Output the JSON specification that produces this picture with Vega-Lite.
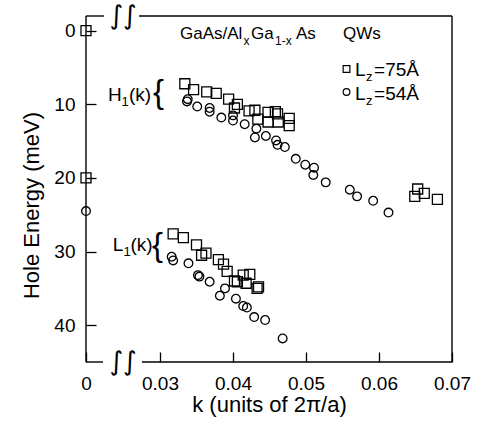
{
  "$schema": "https://vega.github.io/schema/vega-lite/v6.json",
  "width": 366,
  "height": 346,
  "autosize": {"type": "none"},
  "padding": {"left": 86, "top": 16, "right": 32, "bottom": 66},
  "background": "white",
  "config": {
    "view": {"stroke": null},
    "font": "Liberation Sans",
    "axis": {
      "domain": false,
      "grid": false,
      "ticks": true,
      "tickSize": -10,
      "tickColor": "black",
      "tickWidth": 1.3,
      "labelFlush": false,
      "labelOverlap": false,
      "labelFont": "Liberation Sans",
      "labelFontSize": 19,
      "labelColor": "black",
      "titleFont": "Liberation Sans",
      "titleFontSize": 22,
      "titleFontWeight": "normal",
      "titleColor": "black"
    }
  },
  "datasets": {
    "sq": [
      {"k": 0, "E": 0}, {"k": 0, "E": 20.0},
      {"k": 0.0334, "E": 7.2}, {"k": 0.0346, "E": 8.0}, {"k": 0.0364, "E": 8.3}, {"k": 0.0377, "E": 8.5},
      {"k": 0.0394, "E": 9.3}, {"k": 0.0406, "E": 10.0}, {"k": 0.0402, "E": 10.5}, {"k": 0.0422, "E": 10.9},
      {"k": 0.0430, "E": 10.8}, {"k": 0.0434, "E": 12.0}, {"k": 0.0448, "E": 11.1}, {"k": 0.0458, "E": 11.0},
      {"k": 0.0461, "E": 11.3}, {"k": 0.0448, "E": 12.4}, {"k": 0.0462, "E": 12.4}, {"k": 0.0477, "E": 11.9},
      {"k": 0.0477, "E": 12.9},
      {"k": 0.0653, "E": 21.5}, {"k": 0.0649, "E": 22.5}, {"k": 0.0662, "E": 22.1}, {"k": 0.0680, "E": 22.9},
      {"k": 0.0318, "E": 27.6}, {"k": 0.0332, "E": 28.1}, {"k": 0.0350, "E": 29.1}, {"k": 0.0363, "E": 30.2},
      {"k": 0.0357, "E": 30.5}, {"k": 0.0380, "E": 31.1}, {"k": 0.0387, "E": 31.7}, {"k": 0.0392, "E": 32.7},
      {"k": 0.0402, "E": 34.0}, {"k": 0.0406, "E": 34.1}, {"k": 0.0414, "E": 33.2}, {"k": 0.0423, "E": 33.1},
      {"k": 0.0418, "E": 34.3}, {"k": 0.0433, "E": 35.0}, {"k": 0.0435, "E": 34.8}
    ],
    "ci": [
      {"k": 0, "E": 24.5},
      {"k": 0.0337, "E": 9.6}, {"k": 0.0338, "E": 9.3}, {"k": 0.0351, "E": 10.3}, {"k": 0.0368, "E": 10.5},
      {"k": 0.0368, "E": 11.0}, {"k": 0.0384, "E": 11.8}, {"k": 0.0400, "E": 11.5}, {"k": 0.0400, "E": 12.2},
      {"k": 0.0416, "E": 12.7}, {"k": 0.0432, "E": 13.3}, {"k": 0.0430, "E": 14.5}, {"k": 0.0445, "E": 14.3},
      {"k": 0.0459, "E": 14.9}, {"k": 0.0461, "E": 15.5}, {"k": 0.0471, "E": 15.8}, {"k": 0.0486, "E": 17.4},
      {"k": 0.0499, "E": 18.2}, {"k": 0.0511, "E": 18.6}, {"k": 0.0510, "E": 19.6}, {"k": 0.0527, "E": 20.6},
      {"k": 0.0560, "E": 21.6}, {"k": 0.0570, "E": 22.5}, {"k": 0.0592, "E": 23.1}, {"k": 0.0613, "E": 24.7},
      {"k": 0.0316, "E": 30.7}, {"k": 0.0318, "E": 31.2}, {"k": 0.0339, "E": 31.6}, {"k": 0.0352, "E": 33.2},
      {"k": 0.0354, "E": 33.4}, {"k": 0.0368, "E": 34.1}, {"k": 0.0389, "E": 35.0}, {"k": 0.0382, "E": 36.0},
      {"k": 0.0404, "E": 36.4}, {"k": 0.0414, "E": 37.4}, {"k": 0.0419, "E": 37.6}, {"k": 0.0429, "E": 38.9},
      {"k": 0.0444, "E": 39.3}, {"k": 0.0468, "E": 41.8}
    ],
    "frame": [
      {"k": 0, "k2": 0, "E": -2, "E2": 45},
      {"k": 0.07, "k2": 0.07, "E": -2, "E2": 45},
      {"k": 0, "k2": 0.0073, "E": -2, "E2": -2},
      {"k": 0.0215, "k2": 0.07, "E": -2, "E2": -2},
      {"k": 0, "k2": 0.0069, "E": 45, "E2": 45},
      {"k": 0.0227, "k2": 0.07, "E": 45, "E2": 45}
    ],
    "breaks": [
      {"k": 0.015, "E": -2, "t": "∫∫"},
      {"k": 0.015, "E": 45, "t": "∫∫"}
    ],
    "txtMain": [
      {"k": 0.008919, "E": 9.55, "t": "H"}, {"k": 0.017432, "E": 9.55, "t": "(k)"},
      {"k": 0.010824, "E": 29.92, "t": "L"}, {"k": 0.018041, "E": 29.92, "t": "(k)"},
      {"k": 0.05671, "E": 6.15, "t": "L"}, {"k": 0.05932, "E": 6.15, "t": "=75Å"},
      {"k": 0.05671, "E": 9.41, "t": "L"}, {"k": 0.05932, "E": 9.41, "t": "=54Å"}
    ],
    "txtTitle": [
      {"k": 0.03274, "E": 1.057, "t": "GaAs/Al"}, {"k": 0.042466, "E": 1.057, "t": "Ga"},
      {"k": 0.04863, "E": 1.057, "t": "As"}, {"k": 0.055068, "E": 1.057, "t": "QWs"}
    ],
    "txtTitleSub": [
      {"k": 0.041438, "E": 1.94, "t": "x"}, {"k": 0.045753, "E": 1.94, "t": "1-x"}
    ],
    "txtSub": [
      {"k": 0.014392, "E": 10.23, "t": "1"}, {"k": 0.015203, "E": 30.6, "t": "1"},
      {"k": 0.05822, "E": 6.83, "t": "z"}, {"k": 0.05822, "E": 10.09, "t": "z"}
    ],
    "braces": [
      {"k": 0.027162, "E": 9.82, "t": "{"},
      {"k": 0.026757, "E": 30.6, "t": "{"}
    ],
    "legSq": [{"k": 0.05555, "E": 5.2}],
    "legCi": [{"k": 0.05555, "E": 8.32}]
  },
  "encoding": {
    "x": {
      "field": "k", "type": "quantitative",
      "scale": {"domain": [0, 0.03, 0.07], "range": [0, 74, 366], "nice": false, "zero": false},
      "axis": {
        "values": [0, 0.03, 0.04, 0.05, 0.06, 0.07],
        "labelExpr": "datum.value == 0 ? '0' : format(datum.value, '.2f')",
        "labelPadding": 22,
        "title": "k (units of 2π/a)",
        "titlePadding": 1
      }
    },
    "y": {
      "field": "E", "type": "quantitative",
      "scale": {"domain": [-2, 45], "reverse": true, "nice": false, "zero": false},
      "axis": {
        "values": [0, 10, 20, 30, 40],
        "labelPadding": 21,
        "title": "Hole Energy (meV)",
        "titlePadding": 10,
        "titleY": 189
      }
    }
  },
  "layer": [
    {
      "data": {"name": "frame"},
      "mark": {"type": "rule", "color": "black", "strokeWidth": 1.4},
      "encoding": {"x2": {"field": "k2"}, "y2": {"field": "E2"}}
    },
    {
      "data": {"name": "sq"},
      "mark": {"type": "point", "shape": "square", "filled": false, "color": "black", "strokeWidth": 1.3, "size": 100, "opacity": 1}
    },
    {
      "data": {"name": "ci"},
      "mark": {"type": "point", "shape": "circle", "filled": false, "color": "black", "strokeWidth": 1.3, "size": 75, "opacity": 1}
    },
    {
      "data": {"name": "legSq"},
      "mark": {"type": "point", "shape": "square", "filled": false, "color": "black", "strokeWidth": 1.2, "size": 45, "opacity": 1}
    },
    {
      "data": {"name": "legCi"},
      "mark": {"type": "point", "shape": "circle", "filled": false, "color": "black", "strokeWidth": 1.2, "size": 45, "opacity": 1}
    },
    {
      "data": {"name": "txtMain"},
      "mark": {"type": "text", "align": "left", "baseline": "alphabetic", "fontSize": 19, "color": "black"},
      "encoding": {"text": {"field": "t"}}
    },
    {
      "data": {"name": "txtTitle"},
      "mark": {"type": "text", "align": "left", "baseline": "alphabetic", "fontSize": 17, "color": "black"},
      "encoding": {"text": {"field": "t"}}
    },
    {
      "data": {"name": "txtTitleSub"},
      "mark": {"type": "text", "align": "left", "baseline": "alphabetic", "fontSize": 12, "color": "black"},
      "encoding": {"text": {"field": "t"}}
    },
    {
      "data": {"name": "txtSub"},
      "mark": {"type": "text", "align": "left", "baseline": "alphabetic", "fontSize": 13, "color": "black"},
      "encoding": {"text": {"field": "t"}}
    },
    {
      "data": {"name": "braces"},
      "mark": {"type": "text", "align": "left", "baseline": "alphabetic", "fontSize": 33, "color": "black"},
      "encoding": {"text": {"field": "t"}}
    },
    {
      "data": {"name": "breaks"},
      "mark": {"type": "text", "align": "center", "baseline": "middle", "fontSize": 26, "font": "DejaVu Sans", "color": "black"},
      "encoding": {"text": {"field": "t"}}
    }
  ]
}
